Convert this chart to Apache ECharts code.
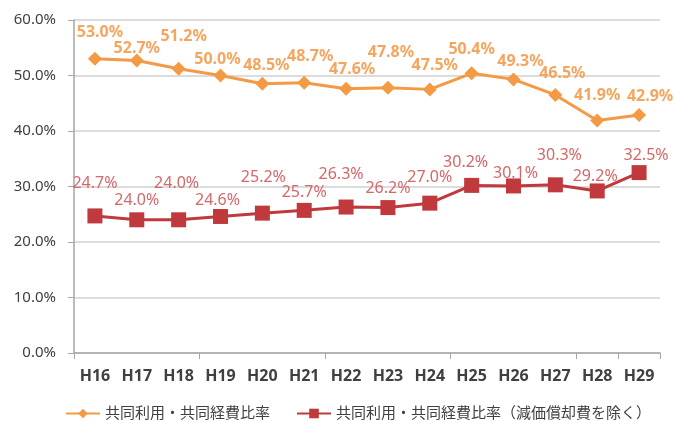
<!DOCTYPE html>
<html>
<head>
<meta charset="utf-8">
<script src="https://cdn.jsdelivr.net/npm/echarts@6/dist/echarts.min.js"></script>
<style>
  html, body { margin: 0; padding: 0; background: #fff; }
  #chart { width: 674px; height: 421px; }
</style>
</head>
<body>
<div id="chart"></div>
<script>
// 年度
const years = ['H16', 'H17', 'H18', 'H19', 'H20', 'H21', 'H22', 'H23', 'H24', 'H25', 'H26', 'H27', 'H28', 'H29'];
// 共同利用・共同経費比率 (%)
const ratioAll = [53.0, 52.7, 51.2, 50.0, 48.5, 48.7, 47.6, 47.8, 47.5, 50.4, 49.3, 46.5, 41.9, 42.9];
// 減価償却費を除く (%)
const ratioExDep = [24.7, 24.0, 24.0, 24.6, 25.2, 25.7, 26.3, 26.2, 27.0, 30.2, 30.1, 30.3, 29.2, 32.5];
const yTicks = [0, 10, 20, 30, 40, 50, 60];

const nameAll = '共同利用・共同経費比率';
const nameExDep = '共同利用・共同経費比率（減価償却費を除く）';

// ラベルの位置ずらし [dx, 上方向]
const liftAll = [[5,26],[0,12],[5,32],[-3,16],[4,18],[6,26],[6,19],[3,35],[5,24],[0,24],[7,18],[7,21],[0,25],[11,18]];
const liftExDep = [[0,32],[0,19],[-2,36],[-3,16],[1,36],[0,18],[-5,33],[0,19],[0,26],[-6,23],[2,13],[4,29],[-2,15],[7,17]];

const withLabels = (values, lifts) => values.map((v, i) => ({
  value: v,
  label: { offset: [lifts[i][0], -lifts[i][1]] }
}));

const font = '"Noto Sans", "Noto Sans CJK JP", sans-serif';

const chart = echarts.init(document.getElementById('chart'));
chart.setOption({
  animation: false,
  textStyle: { fontFamily: font },
  grid: { left: 74, right: 14, top: 20, bottom: 68 },
  legend: {
    left: 60,
    top: 401,
    itemWidth: 34,
    itemHeight: 12,
    itemGap: 26,
    textStyle: { fontSize: 15, color: '#404040', fontFamily: font },
    data: [nameAll, nameExDep]
  },
  xAxis: {
    type: 'category',
    data: years,
    boundaryGap: true,
    axisLine: { lineStyle: { color: '#a6a6a6', width: 1.5 } },
    axisTick: { show: true, interval: 2, length: 6, lineStyle: { color: '#a6a6a6' } },
    axisLabel: { interval: 0, fontSize: 16, fontWeight: 'bold', color: '#404040', margin: 15 }
  },
  yAxis: {
    type: 'value',
    min: yTicks[0],
    max: yTicks[yTicks.length - 1],
    interval: 10,
    axisLine: { show: true, lineStyle: { color: '#a6a6a6', width: 1.5 } },
    axisTick: { show: true, length: 6, lineStyle: { color: '#a6a6a6' } },
    axisLabel: {
      fontSize: 15,
      color: '#404040',
      margin: 18,
      formatter: v => v.toFixed(1) + '%'
    },
    splitLine: { lineStyle: { color: '#d0d0d0', width: 1.5 } }
  },
  series: [
    {
      name: nameAll,
      type: 'line',
      data: withLabels(ratioAll, liftAll),
      symbol: 'diamond',
      symbolSize: 14,
      lineStyle: { color: '#f49a44', width: 3 },
      itemStyle: { color: '#f49a44' },
      label: {
        show: true,
        position: 'inside',
        fontSize: 16,
        fontWeight: 'bold',
        color: '#f5a55e',
        formatter: p => p.value.toFixed(1) + '%'
      }
    },
    {
      name: nameExDep,
      type: 'line',
      data: withLabels(ratioExDep, liftExDep),
      symbol: 'rect',
      symbolSize: 15,
      lineStyle: { color: '#c0393d', width: 3 },
      itemStyle: { color: '#c0393d' },
      label: {
        show: true,
        position: 'inside',
        fontSize: 16,
        color: '#d4676a',
        formatter: p => p.value.toFixed(1) + '%'
      }
    }
  ]
});
</script>
</body>
</html>
